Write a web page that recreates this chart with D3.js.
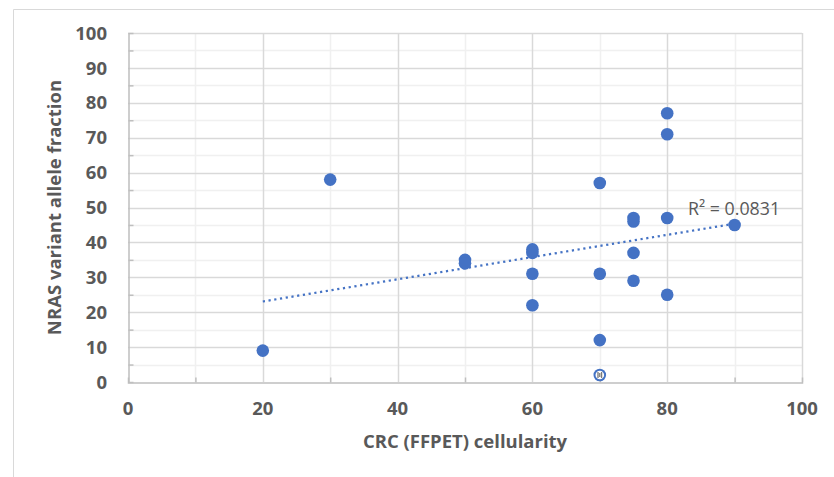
<!DOCTYPE html>
<html>
<head>
<meta charset="utf-8">
<script src="https://cdn.jsdelivr.net/npm/d3@7"></script>
<style>
  html, body { margin: 0; padding: 0; background: #fff; }
  svg { display: block; }
  text { font-family: "Open Sans", "Liberation Sans", sans-serif; }
</style>
</head>
<body>
<svg id="chart" width="834" height="477"></svg>
<script>
// ---- Data ----
const cellularity = [20, 30, 50, 50, 60, 60, 60, 60, 70, 70, 70, 70, 75, 75, 75, 75, 80, 80, 80, 80, 90];
const nrasVAF     = [ 9, 58, 35, 34, 38, 37, 31, 22, 57, 31, 12,  2, 47, 46, 37, 29, 77, 71, 47, 25, 45];
const selectedPoint = [11];           // index of the point drawn with the "selected" marker
const xTicks = [0, 20, 40, 60, 80, 100];
const yTicks = [0, 10, 20, 30, 40, 50, 60, 70, 80, 90, 100];
const xMinorTicks = [10, 30, 50, 70, 90];
const yMinorTicks = [5, 15, 25, 35, 45, 55, 65, 75, 85, 95];
const xTitle = "CRC (FFPET) cellularity";
const yTitle = "NRAS variant allele fraction";

// ---- Layout ----
const svg = d3.select("#chart");
const plot = { left: 128, top: 33, right: 802, bottom: 382 };
const x = d3.scaleLinear().domain([0, 100]).range([plot.left, plot.right]);
const y = d3.scaleLinear().domain([0, 100]).range([plot.bottom, plot.top]);

const blue = "#4472C4";
const textGrey = "#595959";
const labelSize = 18.5;

// outer chart frame (cut off at right and bottom)
svg.append("path")
  .attr("d", "M13.5,477 L13.5,9.5 L834,9.5")
  .attr("fill", "none").attr("stroke", "#d9d9d9").attr("stroke-width", 1);

// minor gridlines
const g = svg.append("g");
g.selectAll(".ymin").data(yMinorTicks).join("line")
  .attr("x1", plot.left).attr("x2", plot.right)
  .attr("y1", d => Math.round(y(d)) + 0.5).attr("y2", d => Math.round(y(d)) + 0.5)
  .attr("stroke", "#f0f0f0").attr("stroke-width", 1.5);
g.selectAll(".xmin").data(xMinorTicks).join("line")
  .attr("y1", plot.top).attr("y2", plot.bottom)
  .attr("x1", d => Math.round(x(d)) + 0.5).attr("x2", d => Math.round(x(d)) + 0.5)
  .attr("stroke", "#f0f0f0").attr("stroke-width", 1.5);

// major gridlines
g.selectAll(".ymaj").data(yTicks.filter(d => d > 0)).join("line")
  .attr("x1", plot.left).attr("x2", plot.right)
  .attr("y1", d => Math.round(y(d)) + 0.5).attr("y2", d => Math.round(y(d)) + 0.5)
  .attr("stroke", "#d9d9d9").attr("stroke-width", 1.5);
g.selectAll(".xmaj").data(xTicks.filter(d => d > 0)).join("line")
  .attr("y1", plot.top).attr("y2", plot.bottom)
  .attr("x1", d => Math.round(x(d)) + 0.5).attr("x2", d => Math.round(x(d)) + 0.5)
  .attr("stroke", "#d9d9d9").attr("stroke-width", 1.5);

// axes
const axisColor = "#bfbfbf";
const xAxis = svg.append("g").attr("transform", `translate(0,${Math.round(y(0)) + 0.5})`)
  .call(d3.axisBottom(x).tickValues(xMinorTicks).tickSize(-5).tickFormat(""));
const yAxis = svg.append("g").attr("transform", `translate(${Math.round(x(0)) + 0.5},0)`)
  .call(d3.axisLeft(y).tickValues(yMinorTicks).tickSize(-5).tickFormat(""));
[xAxis, yAxis].forEach(a => {
  a.select(".domain").attr("stroke", axisColor).attr("stroke-width", 1.5);
  a.selectAll(".tick line").attr("stroke", axisColor).attr("stroke-width", 1.5);
});

// tick labels
svg.append("g").selectAll("text").data(yTicks).join("text")
  .attr("x", 107).attr("y", d => y(d)).attr("dy", "0.36em")
  .attr("text-anchor", "end").attr("font-size", labelSize).attr("font-weight", "bold")
  .attr("fill", textGrey).text(d => d);
svg.append("g").selectAll("text").data(xTicks).join("text")
  .attr("x", d => x(d)).attr("y", 415)
  .attr("text-anchor", "middle").attr("font-size", labelSize).attr("font-weight", "bold")
  .attr("fill", textGrey).text(d => d);

// axis titles
svg.append("text")
  .attr("x", (plot.left + plot.right) / 2).attr("y", 448)
  .attr("text-anchor", "middle").attr("font-size", labelSize).attr("font-weight", "bold")
  .attr("fill", textGrey).text(xTitle);
svg.append("text")
  .attr("transform", `translate(61,${(plot.top + plot.bottom) / 2}) rotate(-90)`)
  .attr("text-anchor", "middle").attr("font-size", labelSize).attr("font-weight", "bold")
  .attr("fill", textGrey).text(yTitle);

// linear trendline (least squares on the data, drawn across data range)
const pts = cellularity.map((c, i) => ({ x: c, y: nrasVAF[i] }));
const mx = d3.mean(pts, d => d.x), my = d3.mean(pts, d => d.y);
const sxy = d3.sum(pts, d => (d.x - mx) * (d.y - my));
const sxx = d3.sum(pts, d => (d.x - mx) ** 2);
const syy = d3.sum(pts, d => (d.y - my) ** 2);
const slope = sxy / sxx, intercept = my - slope * mx;
const r2 = (sxy * sxy) / (sxx * syy);
const [xmin, xmax] = d3.extent(cellularity);
svg.append("path")
  .attr("d", d3.line().x(d => x(d)).y(d => y(intercept + slope * d))([xmin, xmax]))
  .attr("fill", "none").attr("stroke", blue).attr("stroke-width", 2.25)
  .attr("stroke-dasharray", "2.2 3.6");

// points
svg.append("g").selectAll("circle").data(pts).join("circle")
  .attr("cx", d => x(d.x)).attr("cy", d => y(d.y)).attr("r", 6.3)
  .attr("fill", blue);

// selected-point marker
const sel = svg.append("g").selectAll("g").data(selectedPoint.map(i => pts[i])).join("g")
  .attr("transform", d => `translate(${x(d.x)},${y(d.y)})`);
sel.append("circle").attr("r", 4.3).attr("fill", "#ffffff");
const dotOffsets = [[-1.8, -2], [1.8, -2], [-1.8, 0], [1.8, 0], [-1.8, 2], [1.8, 2], [0, -1], [0, 1]];
sel.selectAll(".dot").data(dotOffsets).join("circle")
  .attr("cx", d => d[0]).attr("cy", d => d[1]).attr("r", 0.8).attr("fill", "#333");

// R² label
svg.append("text")
  .attr("x", 688).attr("y", 215)
  .attr("font-size", 17.8).attr("fill", textGrey)
  .text(`R² = ${r2.toFixed(4)}`);
</script>
</body>
</html>
